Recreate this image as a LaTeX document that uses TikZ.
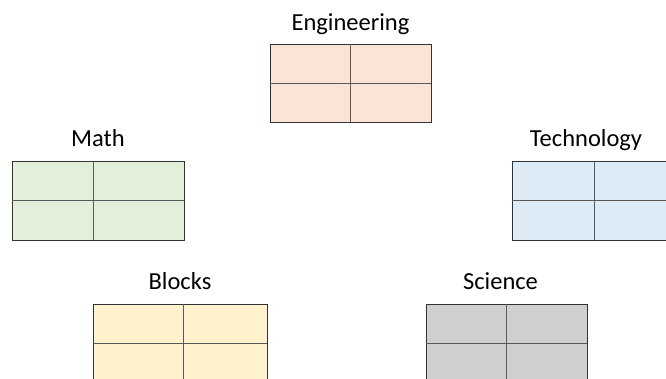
\documentclass[tikz,border=0pt]{standalone}
\usepackage{fontspec}
\setmainfont{Carlito}
\usetikzlibrary{positioning}
\definecolor{engfill}{HTML}{FBE3D6}
\definecolor{mathfill}{HTML}{E2EFDA}
\definecolor{techfill}{HTML}{DDEBF7}
\definecolor{blockfill}{HTML}{FFF2CC}
\definecolor{scifill}{HTML}{D0CECE}

\begin{document}
\begin{tikzpicture}[x=1pt, y=-1pt,
    every node/.style={inner sep=0pt, outer sep=0pt},
    gridbox/.style={draw=black!80, line width=0.9pt, minimum height=79pt},
    cross/.style={draw=black!65, line width=0.9pt},
    title/.style={font=\fontsize{24.5}{29}\selectfont}]
  \useasboundingbox (0,0) rectangle (666,379);
  \clip (0,0) rectangle (666,379);
  % the five tables
  \node[gridbox, fill=engfill, minimum width=161pt, minimum height=78pt] (eng) at (350.5,83) {};
  \node[gridbox, fill=mathfill, minimum width=172pt] (math) at (98,200.5) {};
  \node[gridbox, fill=techfill, minimum width=164pt] (tech) at (594,200.5) {};
  \node[gridbox, fill=blockfill, minimum width=174pt] (blocks) at (180,343.5) {};
  \node[gridbox, fill=scifill, minimum width=161pt] (sci) at (506.5,343.5) {};
  \foreach \t/\d in {eng/0,math/-5,tech/0,blocks/3,sci/0}
    \draw[cross] ([xshift=\d pt]\t.north) -- ([xshift=\d pt]\t.south) (\t.west) -- (\t.east);
  % titles
  \node[title, above=13pt of eng, anchor=base] (engtitle) {Engineering};
  \node[title, above=14pt of math, anchor=base] (mathtitle) {Math};
  \node[title, above=14pt of tech, anchor=base, xshift=-8pt] (techtitle) {Technology};
  \node[title, above=15pt of blocks, anchor=base] (blockstitle) {Blocks};
  \node[title, above=15pt of sci, anchor=base, xshift=-6pt] (scititle) {Science};
\end{tikzpicture}
\end{document}
